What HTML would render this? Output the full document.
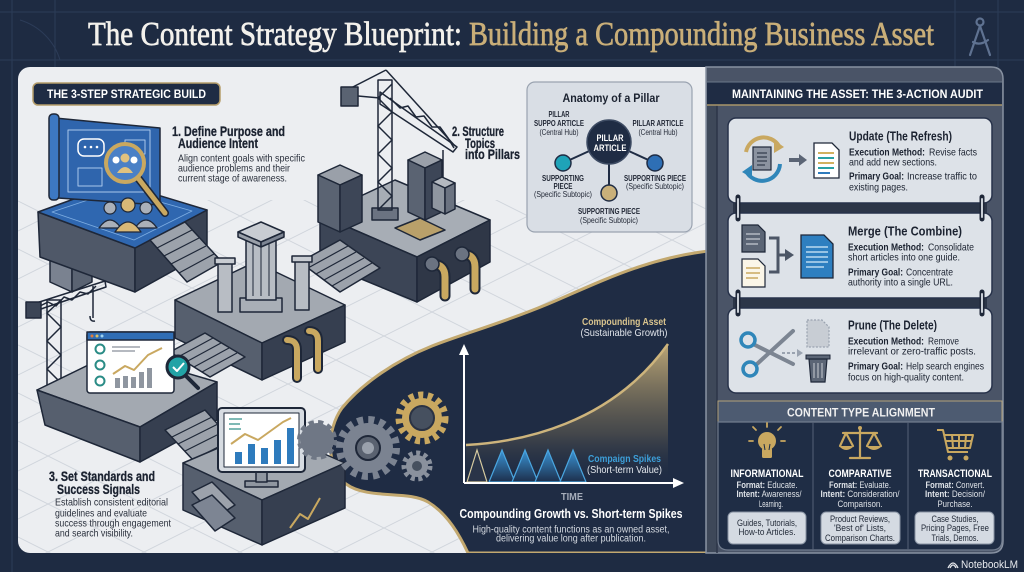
<!DOCTYPE html>
<html><head><meta charset="utf-8"><style>
html,body{margin:0;padding:0;background:#1e2b42;}
svg{display:block}
</style></head><body>
<svg width="1024" height="572" viewBox="0 0 1024 572" xmlns="http://www.w3.org/2000/svg" font-family="'Liberation Sans', sans-serif">
<defs>
<linearGradient id="gf" x1="0" y1="0" x2="0" y2="1"><stop offset="0" stop-color="#cdb47c" stop-opacity=".9"/><stop offset=".65" stop-color="#8a7a58" stop-opacity=".35"/><stop offset="1" stop-color="#1f2c44" stop-opacity="0"/></linearGradient>
<linearGradient id="sp" x1="0" y1="0" x2="0" y2="1"><stop offset="0" stop-color="#3a93d4"/><stop offset="1" stop-color="#1d2f4c"/></linearGradient>
<pattern id="grid" width="96" height="48" patternUnits="userSpaceOnUse"><path d="M0 0 L96 48 M0 48 L96 0" stroke="#d0d5dc" stroke-width="1" fill="none"/></pattern>
<clipPath id="pc"><rect x="18" y="67" width="700" height="486" rx="12"/></clipPath>
</defs>

<!-- background -->
<rect width="1024" height="572" fill="#1e2b42"/>
<g stroke="#2c3c58" stroke-width="1" fill="none">
<line x1="0" y1="12" x2="1024" y2="12"/><line x1="0" y1="60" x2="1024" y2="60"/>
<line x1="55" y1="0" x2="55" y2="67"/><line x1="12" y1="0" x2="12" y2="572"/>
<line x1="955" y1="0" x2="955" y2="67"/><line x1="998" y1="0" x2="998" y2="67"/>
<path d="M20 20 A60 60 0 0 1 60 60"/>
</g>
<!-- compass -->
<g stroke="#5f7291" stroke-width="2.2" fill="none" stroke-linecap="round">
<circle cx="980" cy="22" r="3.5"/><line x1="980" y1="26" x2="970" y2="55"/><line x1="980" y1="26" x2="990" y2="55"/><path d="M973 42 Q980 46 988 40"/>
</g>

<!-- title -->
<text x="88" y="45" font-family="'Liberation Serif', serif" font-size="34" fill="#f3f1ec" stroke="#f3f1ec" stroke-width="0.7" textLength="374" lengthAdjust="spacingAndGlyphs">The Content Strategy Blueprint:</text>
<text x="469" y="45" font-family="'Liberation Serif', serif" font-size="34" fill="#c9ae78" stroke="#c9ae78" stroke-width="0.7" textLength="465" lengthAdjust="spacingAndGlyphs">Building a Compounding Business Asset</text>

<!-- left panel -->
<rect x="18" y="67" width="700" height="486" rx="12" fill="#eceef1"/>
<g clip-path="url(#pc)"><rect x="18" y="200" width="700" height="353" fill="url(#grid)"/></g>

<!-- dark wave -->
<g clip-path="url(#pc)">
<path d="M718,250 C650,256 600,282 548,304 C500,324 462,334 432,346 C392,362 360,386 342,408 C326,430 326,468 346,484 C368,500 408,490 428,502 C448,514 460,536 468,553 L718,553 Z" fill="#1f2c44" stroke="#c2a86f" stroke-width="3"/>
</g>

<!-- badge -->
<rect x="33" y="83" width="187" height="22" rx="5" fill="#1f2c44" stroke="#b59d6a" stroke-width="1.5"/>
<text x="47" y="98" font-size="11.5" font-weight="bold" fill="#ffffff" textLength="159" lengthAdjust="spacingAndGlyphs">THE 3-STEP STRATEGIC BUILD</text>

<!-- ===== illustration ===== -->
<g stroke="#1e2738" stroke-width="1.5" stroke-linejoin="round">
<!-- Platform C -->
<polygon points="320,215 395,180 490,220 417,257" fill="#a7adb5"/>
<polygon points="320,215 417,257 417,302 320,262" fill="#3c4556"/>
<polygon points="417,257 490,220 490,262 417,302" fill="#2f3747"/>
<!-- buildings on C -->
<polygon points="318,175 340,165 362,175 340,185" fill="#9aa0a9"/>
<polygon points="318,175 340,185 340,232 318,222" fill="#5a6372"/>
<polygon points="340,185 362,175 362,222 340,232" fill="#3d4657"/>
<polygon points="408,160 425,152 442,160 425,168" fill="#9aa0a9"/>
<polygon points="408,160 425,168 425,220 408,212" fill="#5a6372"/>
<polygon points="425,168 442,160 442,212 425,220" fill="#3d4657"/>
<polygon points="432,182 442,177 455,183 445,188" fill="#b4b9c0"/>
<polygon points="432,182 445,188 445,214 432,208" fill="#8f96a0"/>
<polygon points="445,188 455,183 455,209 445,214" fill="#6b7381"/>
<polygon points="395,228 420,218 445,230 420,240" fill="#b9a06a"/>
<!-- crane -->
<rect x="372" y="208" width="26" height="12" fill="#6b7381"/>
<g fill="none">
<rect x="378" y="80" width="14" height="130"/>
<path d="M378,210 L392,196 L378,182 L392,168 L378,154 L392,140 L378,126 L392,112 L378,98 L392,84"/>
<polygon points="380,92 457,147 453,152 380,104"/>
<path d="M390,98 L400,108 L408,106 L416,117 L424,116 L432,127 L440,127 L448,138 L454,148"/>
<line x1="386" y1="70" x2="455" y2="146"/><line x1="386" y1="70" x2="347" y2="90"/>
<line x1="443" y1="150" x2="443" y2="178"/>
</g>
<rect x="341" y="87" width="17" height="19" fill="#5a6372"/>
<line x1="358" y1="96" x2="380" y2="98"/>
<!-- stairs B-C -->
<polygon points="300,262 340,240 380,268 340,292" fill="#9ca2ab"/>
<g fill="none" stroke-width="1.2"><line x1="308" y1="268" x2="348" y2="246"/><line x1="316" y1="274" x2="356" y2="252"/><line x1="324" y1="280" x2="364" y2="258"/><line x1="332" y1="286" x2="372" y2="263"/></g>
<!-- pipes on C -->
<g fill="none" stroke-linecap="round">
<path d="M432,264 Q445,264 445,277 L445,296" stroke="#1e2738" stroke-width="11"/>
<path d="M432,264 Q445,264 445,277 L445,296" stroke="#c9a860" stroke-width="7"/>
<path d="M462,254 Q475,254 475,267 L475,289" stroke="#1e2738" stroke-width="11"/>
<path d="M462,254 Q475,254 475,267 L475,289" stroke="#c9a860" stroke-width="7"/>
</g>
<circle cx="432" cy="264" r="7" fill="#6b7381"/><circle cx="462" cy="254" r="7" fill="#6b7381"/>

<!-- side machine -->
<polygon points="50,245 70,236 92,246 72,256" fill="#b4b9c0"/>
<polygon points="50,245 72,256 72,292 50,282" fill="#7a8290"/>
<polygon points="72,256 92,246 92,282 72,292" fill="#5a6372"/>

<!-- Platform A -->
<polygon points="38,212 135,248 135,292 40,257" fill="#4f5868"/>
<polygon points="135,248 207,210 207,252 135,292" fill="#394253"/>
<polygon points="38,212 118,183 207,210 135,248" fill="#2f67b0"/>
<g fill="none" stroke="#7eaee2" stroke-width="0.8"><polygon points="52,212 118,190 192,211 134,240"/></g>
<!-- blueprint sheet -->
<polygon points="55,118 160,128 160,205 58,198" fill="#2f65ad"/>
<rect x="49" y="114" width="10" height="86" rx="4" fill="#3d78c2"/>
<g fill="none" stroke="#a9c7ec" stroke-width="1">
<rect x="68" y="130" width="82" height="62"/>
<rect x="125" y="140" width="20" height="14"/>
<rect x="78" y="168" width="24" height="18"/>
</g>
<rect x="78" y="139" width="26" height="17" rx="6" fill="none" stroke="#ffffff" stroke-width="1.5"/>
<g fill="#ffffff" stroke="none"><circle cx="85" cy="147" r="1.3"/><circle cx="91" cy="147" r="1.3"/><circle cx="97" cy="147" r="1.3"/></g>
<line x1="138" y1="178" x2="165" y2="213" stroke="#1e2738" stroke-width="8" stroke-linecap="round"/>
<line x1="138" y1="178" x2="165" y2="213" stroke="#c9a860" stroke-width="5" stroke-linecap="round"/>
<circle cx="125" cy="163" r="19" fill="#4a80c6" stroke="#c9a860" stroke-width="4"/>
<g stroke="none"><circle cx="116" cy="160" r="3.5" fill="#ffffff"/><circle cx="134" cy="160" r="3.5" fill="#ffffff"/><circle cx="125" cy="158" r="4.5" fill="#e0c27f"/><path d="M117 173 Q125 161 133 173 Z" fill="#e0c27f"/></g>
<!-- people -->
<g stroke-width="1.2">
<circle cx="110" cy="208" r="6" fill="#aab0b9"/><path d="M99 228 Q110 212 121 228 Z" fill="#aab0b9"/>
<circle cx="146" cy="208" r="6" fill="#aab0b9"/><path d="M135 228 Q146 212 157 228 Z" fill="#aab0b9"/>
<circle cx="128" cy="205" r="7" fill="#d8b877"/><path d="M115 232 Q128 212 141 232 Z" fill="#d8b877"/>
</g>

<!-- stairs A-B -->
<polygon points="150,240 185,222 222,262 187,282" fill="#9ca2ab"/>
<g fill="none" stroke-width="1.2"><line x1="157" y1="248" x2="192" y2="230"/><line x1="164" y1="256" x2="199" y2="238"/><line x1="171" y1="264" x2="206" y2="246"/><line x1="179" y1="273" x2="214" y2="254"/></g>

<!-- Platform B -->
<polygon points="175,300 255,262 345,305 262,343" fill="#a3a9b1"/>
<polygon points="175,300 262,343 262,380 175,338" fill="#565f6e"/>
<polygon points="262,343 345,305 345,342 262,380" fill="#363f50"/>
<!-- pillars -->
<rect x="218" y="262" width="14" height="50" fill="#b8bdc4"/>
<rect x="215" y="258" width="20" height="6" fill="#c8ccd2"/>
<rect x="295" y="260" width="14" height="50" fill="#b8bdc4"/>
<rect x="292" y="256" width="20" height="6" fill="#c8ccd2"/>
<rect x="240" y="298" width="42" height="14" fill="#a9afb7"/>
<rect x="246" y="240" width="30" height="60" fill="#b8bdc4"/>
<g fill="none" stroke-width="1"><line x1="253" y1="244" x2="253" y2="296"/><line x1="261" y1="244" x2="261" y2="296"/><line x1="269" y1="244" x2="269" y2="296"/></g>
<polygon points="238,232 261,222 284,232 261,242" fill="#c8ccd2"/>
<polygon points="238,232 261,242 261,247 238,237" fill="#9aa0a9"/>
<polygon points="261,242 284,232 284,237 261,247" fill="#7d8593"/>
<!-- pipes on B -->
<g fill="none" stroke-linecap="round">
<path d="M287,340 Q297,340 297,350 L297,378" stroke="#1e2738" stroke-width="10"/>
<path d="M287,340 Q297,340 297,350 L297,378" stroke="#c9a860" stroke-width="6"/>
<path d="M309,331 Q318,331 318,341 L318,369" stroke="#1e2738" stroke-width="10"/>
<path d="M309,331 Q318,331 318,341 L318,369" stroke="#c9a860" stroke-width="6"/>
</g>

<!-- stairs B-D -->
<polygon points="170,352 205,333 245,357 210,377" fill="#9ca2ab"/>
<g fill="none" stroke-width="1.2"><line x1="178" y1="357" x2="213" y2="338"/><line x1="186" y1="362" x2="221" y2="343"/><line x1="194" y1="367" x2="229" y2="348"/><line x1="202" y1="372" x2="237" y2="353"/></g>

<!-- crane 2 -->
<g fill="none">
<rect x="47" y="300" width="14" height="97"/>
<path d="M47,397 L61,383 L47,369 L61,355 L47,341 L61,327 L47,313 L61,300"/>
<polygon points="30,305 105,281 106,287 32,312"/>
<path d="M40,306 L48,302 L56,306 L64,297 L72,300 L80,292 L88,294 L96,286"/>
<line x1="93" y1="286" x2="93" y2="318"/>
</g>
<rect x="26" y="302" width="15" height="16" fill="#3c4556"/>
<path d="M90 316 Q90 322 95 321" fill="none"/>

<!-- Platform D -->
<polygon points="37,390 115,352 217,382 140,427" fill="#a3a9b1"/>
<polygon points="37,390 140,427 140,462 45,425" fill="#565f6e"/>
<polygon points="140,427 217,382 217,420 140,462" fill="#363f50"/>
<!-- card -->
<rect x="87" y="332" width="87" height="61" rx="3" fill="#ffffff"/>
<rect x="87" y="332" width="87" height="8" fill="#2f6db5"/>
<g stroke="none"><circle cx="92" cy="336" r="1.5" fill="#e07a3a"/><circle cx="97" cy="336" r="1.5" fill="#e0c060"/><circle cx="102" cy="336" r="1.5" fill="#9fd3f0"/></g>
<g fill="none" stroke="#2a8c86" stroke-width="2"><circle cx="100" cy="349" r="4.5"/><circle cx="100" cy="365" r="4.5"/><circle cx="100" cy="381" r="4.5"/></g>
<g fill="none" stroke-width="1" stroke="#6b7381"><line x1="112" y1="347" x2="140" y2="347"/><line x1="112" y1="351" x2="135" y2="351"/></g>
<g stroke="none" fill="#8f96a0"><rect x="115" y="378" width="5" height="10"/><rect x="123" y="376" width="5" height="12"/><rect x="131" y="377" width="5" height="11"/><rect x="139" y="372" width="5" height="16"/><rect x="147" y="368" width="5" height="20"/></g>
<polyline points="113,374 125,366 134,370 148,355 162,348" fill="none" stroke="#c9a860" stroke-width="2"/>
<line x1="185" y1="375" x2="198" y2="388" stroke="#1e2738" stroke-width="4" stroke-linecap="round"/>
<circle cx="178" cy="367" r="11" fill="#22a3a6" stroke="#1e2738" stroke-width="3"/>
<polyline points="173,367 177,371 184,363" fill="none" stroke="#ffffff" stroke-width="2"/>

<!-- stairs D-E -->
<polygon points="165,430 205,410 232,440 193,460" fill="#9ca2ab"/>
<g fill="none" stroke-width="1.2"><line x1="172" y1="437" x2="212" y2="417"/><line x1="178" y1="444" x2="218" y2="424"/><line x1="185" y1="451" x2="225" y2="431"/></g>

<!-- Platform E -->
<polygon points="183,463 265,428 345,463 262,500" fill="#a3a9b1"/>
<polygon points="183,463 262,500 262,545 183,510" fill="#565f6e"/>
<polygon points="262,500 345,463 345,508 262,545" fill="#363f50"/>
<polygon points="192,492 212,482 235,505 215,518" fill="#9ca2ab"/>
<polygon points="192,505 212,495 235,518 215,531" fill="#7d8593"/>
<polyline points="290,528 300,514 308,519 320,498" fill="none" stroke="#c9a860" stroke-width="2"/>
<!-- monitor -->
<rect x="245" y="481" width="33" height="6" fill="#8f96a0"/>
<rect x="256" y="471" width="11" height="11" fill="#8f96a0"/>
<rect x="218" y="408" width="87" height="64" rx="4" fill="#d7dce2" stroke-width="2"/>
<rect x="224" y="413" width="75" height="54" fill="#ffffff" stroke-width="1"/>
<g stroke="none" fill="#2e7bbd"><rect x="235" y="452" width="7" height="12"/><rect x="248" y="444" width="7" height="20"/><rect x="261" y="448" width="7" height="16"/><rect x="274" y="440" width="7" height="24"/><rect x="287" y="428" width="7" height="36"/></g>
<polyline points="231,444 245,434 258,440 283,422 291,418" fill="none" stroke="#c9a860" stroke-width="2"/>
<g stroke="#2a8c86" stroke-width="1.2"><line x1="229" y1="419" x2="242" y2="419"/><line x1="229" y1="424" x2="240" y2="424"/><line x1="229" y1="429" x2="241" y2="429"/></g>
</g>

<!-- gears -->
<g>
<circle cx="317" cy="440" r="17" fill="#6f7785" stroke="#6f7785" stroke-width="6" stroke-dasharray="5 4"/>
<circle cx="368" cy="448" r="25" fill="#7b8391"/>
<circle cx="368" cy="448" r="28" fill="none" stroke="#7b8391" stroke-width="8" stroke-dasharray="6 5"/>
<circle cx="368" cy="448" r="12" fill="#5a6270" stroke="#1e2738" stroke-width="2"/>
<circle cx="368" cy="448" r="6" fill="#9aa1ac"/>
<circle cx="422" cy="418" r="20" fill="#c9a860"/>
<circle cx="422" cy="418" r="23" fill="none" stroke="#c9a860" stroke-width="7" stroke-dasharray="5 4.5"/>
<circle cx="422" cy="418" r="12" fill="#46505f" stroke="#2b3344" stroke-width="2"/>
<circle cx="417" cy="466" r="11" fill="#8a919d"/>
<circle cx="417" cy="466" r="13" fill="none" stroke="#8a919d" stroke-width="5" stroke-dasharray="4 3.5"/>
<circle cx="417" cy="466" r="5" fill="#46505f"/>
</g>

<!-- chart -->
<path d="M466,445 C520,442 610,425 668,344 L668,482 L466,482 Z" fill="url(#gf)"/>
<path d="M466,445 C520,442 610,425 668,344" fill="none" stroke="#cdb47c" stroke-width="2.5"/>
<g stroke-width="1.2">
<polygon points="467,482 477,450 487,482" fill="#2a3448" stroke="#d7cba0"/>
<polygon points="489,482 502,450 515,482" fill="url(#sp)" stroke="#4aa6e0"/>
<polygon points="512,482 525,450 538,482" fill="url(#sp)" stroke="#4aa6e0"/>
<polygon points="535,482 548,450 561,482" fill="url(#sp)" stroke="#4aa6e0"/>
<polygon points="560,482 573,450 586,482" fill="url(#sp)" stroke="#4aa6e0"/>
</g>
<line x1="464" y1="483" x2="464" y2="352" stroke="#ffffff" stroke-width="2"/>
<polygon points="459,355 464,344 469,355" fill="#ffffff"/>
<line x1="464" y1="483" x2="675" y2="483" stroke="#ffffff" stroke-width="2"/>
<polygon points="673,478 684,483 673,488" fill="#ffffff"/>
<text x="624" y="325" text-anchor="middle" font-size="10.5" font-weight="bold" fill="#d9c48e" textLength="84" lengthAdjust="spacingAndGlyphs">Compounding Asset</text>
<text x="624" y="336" text-anchor="middle" font-size="10.5" fill="#e2e6ec" textLength="87" lengthAdjust="spacingAndGlyphs">(Sustainable Growth)</text>
<text x="588" y="462" font-size="10.5" font-weight="bold" fill="#3d9fd8" textLength="73" lengthAdjust="spacingAndGlyphs">Compaign Spikes</text>
<text x="587" y="473" font-size="10.5" fill="#e2e6ec" textLength="75" lengthAdjust="spacingAndGlyphs">(Short-term Value)</text>
<text x="572" y="500" text-anchor="middle" font-size="10" font-weight="bold" fill="#a7aebb" textLength="22" lengthAdjust="spacingAndGlyphs">TIME</text>
<text x="571" y="518" text-anchor="middle" font-size="13" font-weight="bold" fill="#ffffff" textLength="223" lengthAdjust="spacingAndGlyphs">Compounding Growth vs. Short-term Spikes</text>
<text x="571" y="532.5" text-anchor="middle" font-size="10" fill="#d5dae1" textLength="197" lengthAdjust="spacingAndGlyphs">High-quality content functions as an owned asset,</text>
<text x="571" y="541.5" text-anchor="middle" font-size="10" fill="#d5dae1" textLength="150" lengthAdjust="spacingAndGlyphs">delivering value long after publication.</text>

<!-- left text -->
<g fill="#1b2230">
<text x="172" y="136" font-size="14" font-weight="bold" stroke="#1b2230" stroke-width="0.3" textLength="113" lengthAdjust="spacingAndGlyphs">1. Define Purpose and</text>
<text x="178" y="148" font-size="14" font-weight="bold" stroke="#1b2230" stroke-width="0.3" textLength="80" lengthAdjust="spacingAndGlyphs">Audience Intent</text>
<text x="178" y="161.5" font-size="10.5" fill="#2a303c" textLength="127" lengthAdjust="spacingAndGlyphs">Align content goals with specific</text>
<text x="178" y="171.5" font-size="10.5" fill="#2a303c" textLength="112" lengthAdjust="spacingAndGlyphs">audience problems and their</text>
<text x="178" y="181.5" font-size="10.5" fill="#2a303c" textLength="109" lengthAdjust="spacingAndGlyphs">current stage of awareness.</text>
<text x="452" y="136" font-size="14" font-weight="bold" stroke="#1b2230" stroke-width="0.3" textLength="52" lengthAdjust="spacingAndGlyphs">2. Structure</text>
<text x="465" y="148" font-size="14" font-weight="bold" stroke="#1b2230" stroke-width="0.3" textLength="30" lengthAdjust="spacingAndGlyphs">Topics</text>
<text x="465" y="159" font-size="14" font-weight="bold" stroke="#1b2230" stroke-width="0.3" textLength="55" lengthAdjust="spacingAndGlyphs">into Pillars</text>
<text x="49" y="481" font-size="14" font-weight="bold" stroke="#1b2230" stroke-width="0.3" textLength="106" lengthAdjust="spacingAndGlyphs">3. Set Standards and</text>
<text x="57" y="494" font-size="14" font-weight="bold" stroke="#1b2230" stroke-width="0.3" textLength="83" lengthAdjust="spacingAndGlyphs">Success Signals</text>
<text x="55" y="505.5" font-size="10.5" fill="#2a303c" textLength="113" lengthAdjust="spacingAndGlyphs">Establish consistent editorial</text>
<text x="55" y="516.5" font-size="10.5" fill="#2a303c" textLength="92" lengthAdjust="spacingAndGlyphs">guidelines and evaluate</text>
<text x="55" y="526.5" font-size="10.5" fill="#2a303c" textLength="116" lengthAdjust="spacingAndGlyphs">success through engagement</text>
<text x="55" y="536.5" font-size="10.5" fill="#2a303c" textLength="78" lengthAdjust="spacingAndGlyphs">and search visibility.</text>
</g>

<!-- anatomy box -->
<rect x="527" y="82" width="165" height="150" rx="8" fill="#d9dee5" stroke="#9aa3b0" stroke-width="1.2"/>
<text x="611" y="102" text-anchor="middle" font-size="12" font-weight="bold" fill="#1b2230" textLength="97" lengthAdjust="spacingAndGlyphs">Anatomy of a Pillar</text>
<g stroke="#1f2c44" stroke-width="2"><line x1="609" y1="142" x2="563" y2="163"/><line x1="609" y1="142" x2="655" y2="163"/><line x1="609" y1="142" x2="609" y2="193"/></g>
<circle cx="609" cy="142" r="22" fill="#1f2c44" stroke="#3d4b63" stroke-width="1.5"/>
<circle cx="563" cy="163" r="8" fill="#1fa3b8" stroke="#1f2c44" stroke-width="1.5"/>
<circle cx="655" cy="163" r="8" fill="#2e6fb5" stroke="#1f2c44" stroke-width="1.5"/>
<circle cx="609" cy="193" r="8" fill="#c9b07a" stroke="#1f2c44" stroke-width="1.5"/>
<text x="610" y="141" text-anchor="middle" font-size="9.5" font-weight="bold" fill="#ffffff" textLength="27" lengthAdjust="spacingAndGlyphs">PILLAR</text>
<text x="610" y="151" text-anchor="middle" font-size="9.5" font-weight="bold" fill="#ffffff" textLength="33" lengthAdjust="spacingAndGlyphs">ARTICLE</text>
<g fill="#1f2533" font-size="8" text-anchor="middle">
<text x="559" y="117" font-weight="bold" textLength="21" lengthAdjust="spacingAndGlyphs">PILLAR</text>
<text x="559" y="126" font-weight="bold" textLength="50" lengthAdjust="spacingAndGlyphs">SUPPO ARTICLE</text>
<text x="559" y="135" textLength="39" lengthAdjust="spacingAndGlyphs">(Central Hub)</text>
<text x="658" y="126" font-weight="bold" textLength="51" lengthAdjust="spacingAndGlyphs">PILLAR ARTICLE</text>
<text x="658" y="135" textLength="39" lengthAdjust="spacingAndGlyphs">(Central Hub)</text>
<text x="563" y="181" font-weight="bold" textLength="42" lengthAdjust="spacingAndGlyphs">SUPPORTING</text>
<text x="563" y="189" font-weight="bold" textLength="19" lengthAdjust="spacingAndGlyphs">PIECE</text>
<text x="563" y="197" textLength="58" lengthAdjust="spacingAndGlyphs">(Specific Subtopic)</text>
<text x="655" y="181" font-weight="bold" textLength="62" lengthAdjust="spacingAndGlyphs">SUPPORTING PIECE</text>
<text x="655" y="189" textLength="58" lengthAdjust="spacingAndGlyphs">(Specific Subtopic)</text>
<text x="609" y="214" font-weight="bold" textLength="62" lengthAdjust="spacingAndGlyphs">SUPPORTING PIECE</text>
<text x="609" y="223" textLength="58" lengthAdjust="spacingAndGlyphs">(Specific Subtopic)</text>
</g>

<!-- ===== right panel ===== -->
<path d="M706,67 L991,67 Q1003,67 1003,79 L1003,541 Q1003,553 991,553 L706,553 Z" fill="#4a5467" stroke="#8791a1" stroke-width="1.5"/>
<rect x="707" y="105" width="10" height="447" fill="#3e4859"/>
<line x1="717" y1="105" x2="717" y2="553" stroke="#2c3548" stroke-width="1.5"/>
<rect x="707" y="82" width="295" height="23" fill="#1f2c44"/>
<line x1="707" y1="82" x2="1002" y2="82" stroke="#6b778a"/>
<line x1="707" y1="105" x2="1002" y2="105" stroke="#a8956a" stroke-width="1.5"/>
<text x="732" y="98" font-size="12" font-weight="bold" fill="#ffffff" textLength="251" lengthAdjust="spacingAndGlyphs">MAINTAINING THE ASSET: THE 3-ACTION AUDIT</text>

<!-- connectors -->
<rect x="733" y="203" width="254" height="10" fill="#2c3648"/>
<rect x="733" y="298" width="254" height="10" fill="#2c3648"/>
<!-- cards -->
<g fill="#dde2e8" stroke="#27324a" stroke-width="1.5">
<rect x="728" y="118" width="264" height="85" rx="8"/>
<rect x="728" y="213" width="264" height="85" rx="8"/>
<rect x="728" y="308" width="264" height="85" rx="8"/>
</g>
<g stroke-linecap="round">
<g stroke="#1e2738" stroke-width="5"><line x1="738" y1="197" x2="738" y2="219"/><line x1="982" y1="197" x2="982" y2="219"/><line x1="738" y1="292" x2="738" y2="314"/><line x1="982" y1="292" x2="982" y2="314"/></g>
<g stroke="#c8ced6" stroke-width="2"><line x1="738" y1="199" x2="738" y2="217"/><line x1="982" y1="199" x2="982" y2="217"/><line x1="738" y1="294" x2="738" y2="312"/><line x1="982" y1="294" x2="982" y2="312"/></g>
</g>

<!-- update icon -->
<g fill="none" stroke-width="4">
<path d="M746,152 A18,18 0 0 1 779,146" stroke="#c9a860"/>
<path d="M780,164 A18,18 0 0 1 746,171" stroke="#2f86b9"/>
</g>
<polygon points="774,140 784,147 774,153" fill="#c9a860"/>
<polygon points="752,165 742,172 752,178" fill="#2f86b9"/>
<rect x="753" y="147" width="18" height="23" fill="#8b93a0" stroke="#1e2738" stroke-width="1.2"/>
<g stroke="#1e2738" stroke-width="1"><line x1="757" y1="153" x2="767" y2="153"/><line x1="757" y1="157" x2="767" y2="157"/><line x1="757" y1="161" x2="767" y2="161"/><line x1="757" y1="165" x2="765" y2="165"/></g>
<line x1="789" y1="160" x2="800" y2="160" stroke="#5b6575" stroke-width="4"/>
<polygon points="799,154 807,160 799,166" fill="#5b6575"/>
<path d="M814,143 L832,143 L839,150 L839,178 L814,178 Z" fill="#ffffff" stroke="#1e2738" stroke-width="1.3"/>
<g stroke-width="2"><line x1="818" y1="153" x2="834" y2="153" stroke="#d2b160"/><line x1="818" y1="158" x2="834" y2="158" stroke="#2aa1a5"/><line x1="818" y1="163" x2="834" y2="163" stroke="#d2b160"/><line x1="818" y1="168" x2="834" y2="168" stroke="#2aa1a5"/><line x1="818" y1="173" x2="830" y2="173" stroke="#2e7bbd"/></g>

<!-- merge icon -->
<path d="M742,225 L758,225 L765,232 L765,252 L742,252 Z" fill="#5b6575" stroke="#1e2738" stroke-width="1.2"/>
<g stroke="#dfe3e9" stroke-width="1"><line x1="746" y1="234" x2="760" y2="234"/><line x1="746" y1="239" x2="760" y2="239"/><line x1="746" y1="244" x2="758" y2="244"/></g>
<path d="M742,259 L758,259 L765,266 L765,287 L742,287 Z" fill="#fbf6e8" stroke="#1e2738" stroke-width="1.2"/>
<g stroke="#c9a860" stroke-width="1.5"><line x1="746" y1="268" x2="760" y2="268"/><line x1="746" y1="273" x2="760" y2="273"/><line x1="746" y1="278" x2="758" y2="278"/></g>
<path d="M769,238 L778,238 L778,272 L769,272 M778,255 L786,255" fill="none" stroke="#4c5666" stroke-width="3"/>
<polygon points="785,249 794,255 785,261" fill="#4c5666"/>
<path d="M801,235 L824,235 L833,244 L833,278 L801,278 Z" fill="#2e7fc0" stroke="#1e2738" stroke-width="1.3"/>
<g stroke="#d6ecfa" stroke-width="1.3"><line x1="806" y1="247" x2="828" y2="247"/><line x1="806" y1="252" x2="828" y2="252"/><line x1="806" y1="257" x2="828" y2="257"/><line x1="806" y1="262" x2="828" y2="262"/><line x1="806" y1="267" x2="824" y2="267"/></g>

<!-- prune icon -->
<g stroke="#7c8592" stroke-width="4" stroke-linecap="round"><line x1="755" y1="345" x2="793" y2="364"/><line x1="757" y1="364" x2="793" y2="331"/></g>
<g fill="none" stroke="#2f86b9" stroke-width="3.5"><circle cx="748" cy="340" r="7"/><circle cx="750" cy="369" r="7"/></g>
<line x1="782" y1="353" x2="797" y2="353" stroke="#9aa3b0" stroke-width="2" stroke-dasharray="3 2"/>
<polygon points="797,349 803,353 797,357" fill="#9aa3b0"/>
<path d="M807,320 L822,320 L829,327 L829,347 L807,347 Z" fill="#c8cdd4" stroke="#9aa3b0" stroke-width="1.2" stroke-dasharray="2 1.5"/>
<rect x="806" y="355" width="24" height="4" fill="#5b6575" stroke="#1e2738" stroke-width="1"/>
<path d="M809,359 L827,359 L825,382 L811,382 Z" fill="#5b6575" stroke="#1e2738" stroke-width="1.2"/>
<g stroke="#c8cdd4" stroke-width="1"><line x1="814" y1="363" x2="814" y2="378"/><line x1="818" y1="363" x2="818" y2="378"/><line x1="822" y1="363" x2="822" y2="378"/></g>

<!-- card text -->
<g fill="#1b2230">
<text x="849" y="140.5" font-size="13" font-weight="bold" textLength="103" lengthAdjust="spacingAndGlyphs">Update (The Refresh)</text>
<text x="849" y="155.5" font-size="10.5" font-weight="bold" textLength="76" lengthAdjust="spacingAndGlyphs">Execution Method:</text>
<text x="929" y="155.5" font-size="10.5" textLength="48" lengthAdjust="spacingAndGlyphs">Revise facts</text>
<text x="849" y="165.5" font-size="10.5" textLength="88" lengthAdjust="spacingAndGlyphs">and add new sections.</text>
<text x="849" y="179.5" font-size="10.5" font-weight="bold" textLength="55" lengthAdjust="spacingAndGlyphs">Primary Goal:</text>
<text x="907" y="179.5" font-size="10.5" textLength="70" lengthAdjust="spacingAndGlyphs">Increase traffic to</text>
<text x="849" y="190.5" font-size="10.5" textLength="59" lengthAdjust="spacingAndGlyphs">existing pages.</text>

<text x="848" y="235.5" font-size="13" font-weight="bold" textLength="114" lengthAdjust="spacingAndGlyphs">Merge (The Combine)</text>
<text x="848" y="250.5" font-size="10.5" font-weight="bold" textLength="76" lengthAdjust="spacingAndGlyphs">Execution Method:</text>
<text x="928" y="250.5" font-size="10.5" textLength="46" lengthAdjust="spacingAndGlyphs">Consolidate</text>
<text x="848" y="260.5" font-size="10.5" textLength="112" lengthAdjust="spacingAndGlyphs">short articles into one guide.</text>
<text x="848" y="275.5" font-size="10.5" font-weight="bold" textLength="55" lengthAdjust="spacingAndGlyphs">Primary Goal:</text>
<text x="906" y="275.5" font-size="10.5" textLength="47" lengthAdjust="spacingAndGlyphs">Concentrate</text>
<text x="848" y="285.5" font-size="10.5" textLength="105" lengthAdjust="spacingAndGlyphs">authority into a single URL.</text>

<text x="848" y="329.5" font-size="13" font-weight="bold" textLength="89" lengthAdjust="spacingAndGlyphs">Prune (The Delete)</text>
<text x="848" y="344.5" font-size="10.5" font-weight="bold" textLength="76" lengthAdjust="spacingAndGlyphs">Execution Method:</text>
<text x="928" y="344.5" font-size="10.5" textLength="31" lengthAdjust="spacingAndGlyphs">Remove</text>
<text x="848" y="354.5" font-size="10.5" textLength="128" lengthAdjust="spacingAndGlyphs">irrelevant or zero-traffic posts.</text>
<text x="848" y="369.5" font-size="10.5" font-weight="bold" textLength="55" lengthAdjust="spacingAndGlyphs">Primary Goal:</text>
<text x="906" y="369.5" font-size="10.5" textLength="78" lengthAdjust="spacingAndGlyphs">Help search engines</text>
<text x="848" y="380.5" font-size="10.5" textLength="116" lengthAdjust="spacingAndGlyphs">focus on high-quality content.</text>
</g>

<!-- content type alignment -->
<rect x="718" y="401" width="284" height="21" fill="#4d5b71" stroke="#b3a27a" stroke-width="1"/>
<text x="861" y="416.5" text-anchor="middle" font-size="12" font-weight="bold" fill="#f0f0f0" textLength="148" lengthAdjust="spacingAndGlyphs">CONTENT TYPE ALIGNMENT</text>
<path d="M718,422 L1002,422 L1002,540 Q1002,550 992,550 L728,550 Q718,550 718,540 Z" fill="#1f2d45" stroke="#717c8e" stroke-width="1.2"/>
<line x1="813" y1="422" x2="813" y2="550" stroke="#556178"/>
<line x1="908" y1="422" x2="908" y2="550" stroke="#556178"/>

<!-- bulb -->
<g stroke="#c9a860" stroke-width="1.8" stroke-linecap="round">
<line x1="756" y1="430" x2="753" y2="427"/><line x1="767" y1="427" x2="767" y2="423"/><line x1="778" y1="430" x2="781" y2="427"/><line x1="753" y1="441" x2="749" y2="441"/><line x1="781" y1="441" x2="785" y2="441"/>
</g>
<circle cx="767" cy="441" r="9" fill="#c9a860"/>
<rect x="762" y="448" width="10" height="10" rx="1.5" fill="#c9a860"/>
<path d="M764 444 L765 450 M770 444 L769 450" stroke="#1f2d45" stroke-width="1"/>
<!-- scale -->
<g stroke="#c9a860" stroke-width="2.2" fill="none" stroke-linecap="round">
<line x1="860" y1="428" x2="860" y2="458"/><line x1="843" y1="433" x2="877" y2="433"/><line x1="850" y1="458" x2="870" y2="458"/>
<line x1="846" y1="433" x2="840" y2="446"/><line x1="846" y1="433" x2="853" y2="446"/><line x1="874" y1="433" x2="867" y2="446"/><line x1="874" y1="433" x2="881" y2="446"/>
</g>
<path d="M839,446 Q846,454 854,446 Z" fill="#c9a860"/>
<path d="M866,446 Q874,454 882,446 Z" fill="#c9a860"/>
<circle cx="860" cy="428" r="2" fill="#c9a860"/>
<!-- cart -->
<g stroke="#c9a860" stroke-width="2" fill="none" stroke-linejoin="round">
<path d="M937,430 L943,430 L948,452 L968,452"/>
<path d="M944,435 L973,435 L970,448 L947,448"/>
<line x1="952" y1="435" x2="953" y2="448"/><line x1="959" y1="435" x2="959" y2="448"/><line x1="966" y1="435" x2="965" y2="448"/><line x1="945" y1="441" x2="971" y2="441"/>
</g>
<circle cx="950" cy="458" r="2.5" fill="#c9a860"/><circle cx="966" cy="458" r="2.5" fill="#c9a860"/>

<g text-anchor="middle">
<text x="767" y="477" font-size="11" font-weight="bold" fill="#ffffff" textLength="73" lengthAdjust="spacingAndGlyphs">INFORMATIONAL</text>
<text x="860" y="477" font-size="11" font-weight="bold" fill="#ffffff" textLength="63" lengthAdjust="spacingAndGlyphs">COMPARATIVE</text>
<text x="955" y="477" font-size="11" font-weight="bold" fill="#ffffff" textLength="74" lengthAdjust="spacingAndGlyphs">TRANSACTIONAL</text>
<g font-size="9" fill="#dfe3e8">
<text x="767" y="488" textLength="61" lengthAdjust="spacingAndGlyphs"><tspan font-weight="bold">Format:</tspan> Educate.</text>
<text x="769" y="497" textLength="65" lengthAdjust="spacingAndGlyphs"><tspan font-weight="bold">Intent:</tspan> Awareness/</text>
<text x="771" y="507" textLength="24" lengthAdjust="spacingAndGlyphs">Learning.</text>
<text x="860" y="488" textLength="62" lengthAdjust="spacingAndGlyphs"><tspan font-weight="bold">Format:</tspan> Evaluate.</text>
<text x="860" y="497" textLength="79" lengthAdjust="spacingAndGlyphs"><tspan font-weight="bold">Intent:</tspan> Consideration/</text>
<text x="860" y="507" textLength="45" lengthAdjust="spacingAndGlyphs">Comparison.</text>
<text x="955" y="488" textLength="59" lengthAdjust="spacingAndGlyphs"><tspan font-weight="bold">Format:</tspan> Convert.</text>
<text x="955" y="497" textLength="60" lengthAdjust="spacingAndGlyphs"><tspan font-weight="bold">Intent:</tspan> Decision/</text>
<text x="955" y="507" textLength="35" lengthAdjust="spacingAndGlyphs">Purchase.</text>
</g>
</g>
<g fill="#d4dae2" stroke="#8893a3" stroke-width="1">
<rect x="728" y="512" width="78" height="32" rx="5"/>
<rect x="821" y="512" width="79" height="32" rx="5"/>
<rect x="915" y="512" width="79" height="32" rx="5"/>
</g>
<g text-anchor="middle" font-size="9" fill="#1f2735">
<text x="767" y="526" textLength="60" lengthAdjust="spacingAndGlyphs">Guides, Tutorials,</text>
<text x="767" y="535" textLength="57" lengthAdjust="spacingAndGlyphs">How-to Articles.</text>
<text x="860" y="522" textLength="60" lengthAdjust="spacingAndGlyphs">Product Reviews,</text>
<text x="860" y="531" textLength="52" lengthAdjust="spacingAndGlyphs">'Best of' Lists,</text>
<text x="860" y="541" textLength="70" lengthAdjust="spacingAndGlyphs">Comparison Charts.</text>
<text x="955" y="522" textLength="47" lengthAdjust="spacingAndGlyphs">Case Studies,</text>
<text x="955" y="531" textLength="68" lengthAdjust="spacingAndGlyphs">Pricing Pages, Free</text>
<text x="955" y="541" textLength="47" lengthAdjust="spacingAndGlyphs">Trials, Demos.</text>
</g>

<!-- watermark -->
<path d="M948,568 Q953,558 958,568 M950,568 Q953,562 956,568" fill="none" stroke="#e8eaee" stroke-width="1.3"/>
<text x="961" y="568" font-size="11" fill="#e8eaee" textLength="57" lengthAdjust="spacingAndGlyphs">NotebookLM</text>
</svg>
</body></html>
